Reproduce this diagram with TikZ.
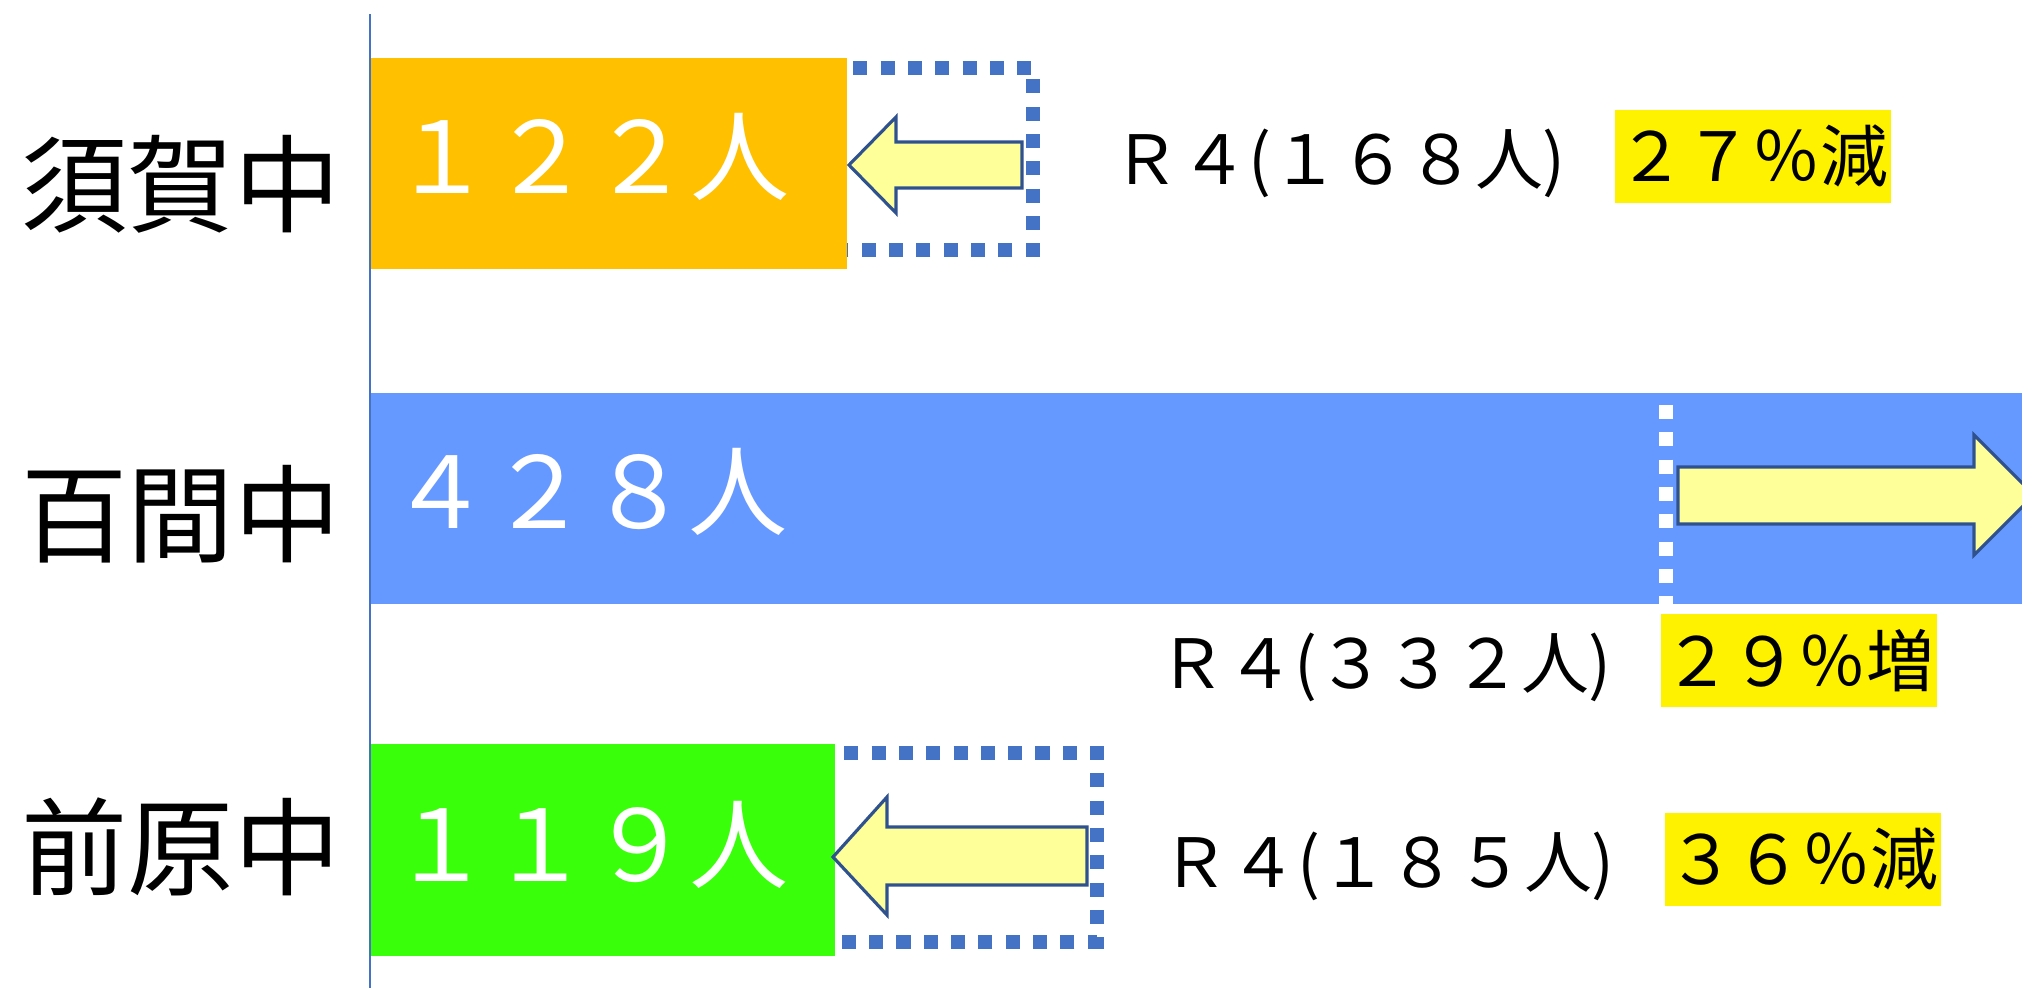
\documentclass[tikz,border=0pt]{standalone}
\usepackage{fontspec}
\setmainfont{Noto Sans CJK JP}
\definecolor{sukaorange}{HTML}{FFC000}
\definecolor{hyakblue}{HTML}{6699FF}
\definecolor{maegreen}{HTML}{3AFF0A}
\definecolor{dotblue}{HTML}{4472C4}
\definecolor{arrowline}{HTML}{2F528F}
\definecolor{arrowfill}{HTML}{FFFF99}
\tikzstyle{bar} = [rectangle, inner sep=0pt, anchor=north west]
\tikzstyle{count} = [inner sep=0pt, anchor=base west, text=white]
\tikzstyle{school} = [inner sep=0pt, anchor=base west]
\tikzstyle{prev} = [inner sep=0pt, anchor=base west]
\tikzstyle{rate} = [rectangle, fill=yellow, inner sep=0pt, minimum width=2.76cm, minimum height=0.93cm, anchor=north west]
\tikzstyle{dotbox} = [draw=dotblue, line width=0.14cm, dash pattern=on 0.14cm off 0.133cm]
\tikzstyle{blockarrow} = [draw=arrowline, fill=arrowfill, line width=0.9pt, line join=miter]
\newcommand{\numfont}{\fontsize{28.2pt}{30pt}\selectfont}
\newcommand{\lblfont}{\fontsize{30.2pt}{32pt}\selectfont}
\newcommand{\smlfont}{\fontsize{19.3pt}{21pt}\selectfont}

\begin{document}
\begin{tikzpicture}[x=0.01cm, y=-0.01cm]
			\useasboundingbox (0,0) rectangle (2022,988);
			\clip (0,0) rectangle (2022,988);
			% R4 boxes (behind the bars)
			\draw[dotbox, dash phase=0.084cm] (370,68) -- (1033,68) -- (1033,250) -- (370,250);
			\draw[dotbox, dash phase=0.174cm] (370,753) -- (1097,753) -- (1097,942) -- (370,942);
			% bars
			\node (sukaBar) [bar, fill=sukaorange, minimum width=4.76cm, minimum height=2.11cm] at (370,57) {};
			\node (hyakBar) [bar, fill=hyakblue, minimum width=17cm, minimum height=2.11cm] at (370,392) {};
			\node (maeBar) [bar, fill=maegreen, minimum width=4.64cm, minimum height=2.12cm] at (370,743) {};
			\draw[dotbox, draw=white] (1666,405) -- (1666,610);
			% axis
			\coordinate (axTop) at (370,14);
			\coordinate (axBot) at (370,988);
			\draw[dotblue, line width=0.6pt] (axTop) -- (axBot);
			% arrows
			\draw[blockarrow] (849,165) -- (896,117) -- (896,142) -- (1022,142) -- (1022,188) -- (896,188) -- (896,213) -- cycle;
			\draw[blockarrow] (2034,495) -- (1974,435) -- (1974,467) -- (1678,467) -- (1678,524) -- (1974,524) -- (1974,555) -- cycle;
			\draw[blockarrow] (833,857) -- (887,797) -- (887,827) -- (1087,827) -- (1087,885) -- (887,885) -- (887,915) -- cycle;
			% schools
			\node (suka) [school] at (21,224) {\lblfont 須賀中};
			\node (hyak) [school] at (21,554) {\lblfont 百間中};
			\node (mae) [school] at (21,887) {\lblfont 前原中};
			% counts
			\node (sukaNum) [count] at (392,193) {\numfont １２２人};
			\node (hyakNum) [count] at (390,528) {\numfont ４２８人};
			\node (maeNum) [count] at (391,881) {\numfont １１９人};
			% R4 and rates
			\node (sukaPrev) [prev] at (1112,184) {\smlfont Ｒ４(１６８人)};
			\node (hyakPrev) [prev] at (1158,688) {\smlfont Ｒ４(３３２人)};
			\node (maePrev) [prev] at (1161,887) {\smlfont Ｒ４(１８５人)};
			\node (sukaRate) [rate] at (1614,109) {\smlfont ２７％減};
			\node (hyakRate) [rate] at (1660,613) {\smlfont ２９％増};
			\node (maeRate) [rate] at (1664,812) {\smlfont ３６％減};
		\end{tikzpicture}
\end{document}
